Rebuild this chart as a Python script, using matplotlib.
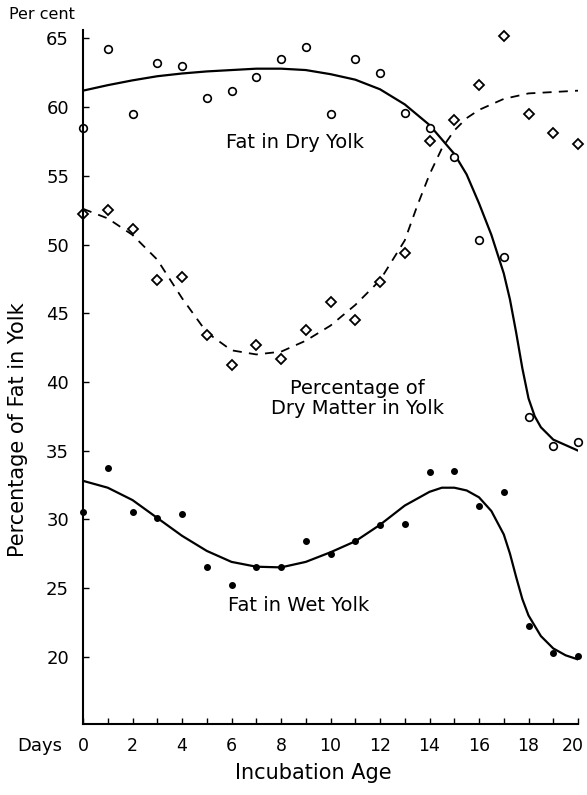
import numpy as np
import matplotlib
matplotlib.use('Agg')
import matplotlib.pyplot as plt
import matplotlib.transforms as mtransforms

# observed points (day = 0..20)
days = list(range(21))
fat_dry = [58.5, 64.25, 59.5, 63.2, 63.0, 60.7, 61.2, 62.2, 63.5, 64.4, 59.5,
           63.5, 62.5, 59.6, 58.5, 56.4, 50.3, 49.1, 37.45, 35.3, 35.6]
dry_matter = [52.2, 52.5, 51.1, 47.4, 47.65, 43.4, 41.25, 42.7, 41.65, 43.75, 45.8,
              44.5, 47.25, 49.4, 57.5, 59.1, 61.6, 65.2, 59.5, 58.1, 57.3]
fat_wet = [30.55, 33.7, 30.5, 30.1, 30.4, 26.5, 25.2, 26.5, 26.5, 28.4, 27.5,
           28.4, 29.6, 29.65, 33.45, 33.5, 31.0, 32.0, 22.25, 20.3, 20.05]

# fitted curves
dry_curve_x = [0, 1, 2, 3, 4, 5, 6, 7, 8, 9, 10, 11, 12, 13, 14, 15, 15.5, 16,
               16.5, 17, 17.25, 17.5, 17.75, 18, 18.25, 18.5, 19, 19.5, 20]
dry_curve_y = [61.2, 61.6, 61.95, 62.25, 62.45, 62.6, 62.7, 62.8, 62.8, 62.7, 62.4,
               62.0, 61.3, 60.2, 58.7, 56.6, 55.1, 53.0, 50.7, 47.9, 46.0, 43.6,
               41.0, 38.8, 37.5, 36.7, 35.8, 35.4, 35.0]
dm_curve_x = [0, 1, 2, 3, 4, 5, 6, 7, 8, 9, 10, 11, 12, 13, 13.5, 14, 14.5, 15,
              15.5, 16, 17, 18, 19, 20]
dm_curve_y = [52.6, 51.9, 50.7, 48.9, 46.1, 43.6, 42.3, 42.0, 42.2, 43.0, 44.1,
              45.6, 47.4, 50.3, 52.8, 55.1, 57.0, 58.3, 59.2, 59.8, 60.6, 61.0, 61.1, 61.2]
wet_curve_x = [0, 1, 2, 3, 4, 5, 6, 7, 8, 9, 10, 11, 12, 13, 14, 14.5, 15, 15.5,
               16, 16.5, 17, 17.25, 17.5, 17.75, 18, 18.5, 19, 19.5, 20]
wet_curve_y = [32.8, 32.3, 31.4, 30.1, 28.8, 27.7, 26.9, 26.55, 26.5, 26.9, 27.6,
               28.4, 29.6, 31.0, 32.0, 32.3, 32.3, 32.1, 31.6, 30.6, 28.9, 27.5,
               25.8, 24.2, 23.0, 21.5, 20.6, 20.1, 19.8]

x_ticks = list(range(0, 21, 2))
y_ticks = list(range(20, 66, 5))

fig = plt.figure(figsize=(5.87, 7.95), dpi=100)
ax = fig.add_axes([0.1414, 0.0893, 0.8433, 0.8727])

ax.plot(dry_curve_x, dry_curve_y, color='black', lw=1.6)
ax.plot(dm_curve_x, dm_curve_y, color='black', lw=1.3, linestyle=(0, (5, 4)))
ax.plot(wet_curve_x, wet_curve_y, color='black', lw=1.6)

ax.plot(days, fat_dry, 'o', ms=5.5, mfc='white', mec='black', mew=1.2, clip_on=False)
ax.plot(days, dry_matter, 'D', ms=5, mfc='white', mec='black', mew=1.3, clip_on=False)
ax.plot(days, fat_wet, 'o', ms=4, color='black', clip_on=False)

ax.set_xlim(0, 20)
ax.set_ylim(15.1, 65.6)
ax.spines['top'].set_visible(False)
ax.spines['right'].set_visible(False)
ax.spines['left'].set_linewidth(1.5)
ax.spines['bottom'].set_linewidth(1.5)

ax.set_xticks(x_ticks)
ax.set_xticks(range(21), minor=True)
ax.set_yticks(y_ticks)
ax.tick_params(axis='both', which='both', direction='in', length=4, width=1,
               labelsize=13)
ax.tick_params(axis='x', pad=9, labelsize=12.5)
ax.tick_params(axis='y', pad=10)

# keep the last x label inside the figure
last = ax.get_xticklabels()[-1]
last.set_transform(last.get_transform() +
                   mtransforms.ScaledTranslation(-5 / 100, 0, fig.dpi_scale_trans))

ax.text(8.57, 57.4, 'Fat in Dry Yolk', fontsize=14, ha='center', va='center')
ax.text(11.1, 38.8, 'Percentage of\nDry Matter in Yolk', fontsize=14,
        ha='center', va='center', linespacing=1.1)
ax.text(8.7, 23.7, 'Fat in Wet Yolk', fontsize=14, ha='center', va='center')

fig.text(0.015, 0.982, 'Per cent', fontsize=11.5, ha='left', va='center')
fig.text(0.03, 0.062, 'Days', fontsize=13, ha='left', va='center')
fig.text(0.533, 0.028, 'Incubation Age', fontsize=15, ha='center', va='center')
fig.text(0.03, 0.46, 'Percentage of Fat in Yolk', fontsize=15, rotation=90,
         ha='center', va='center')

fig.savefig('out.png', dpi=100)
